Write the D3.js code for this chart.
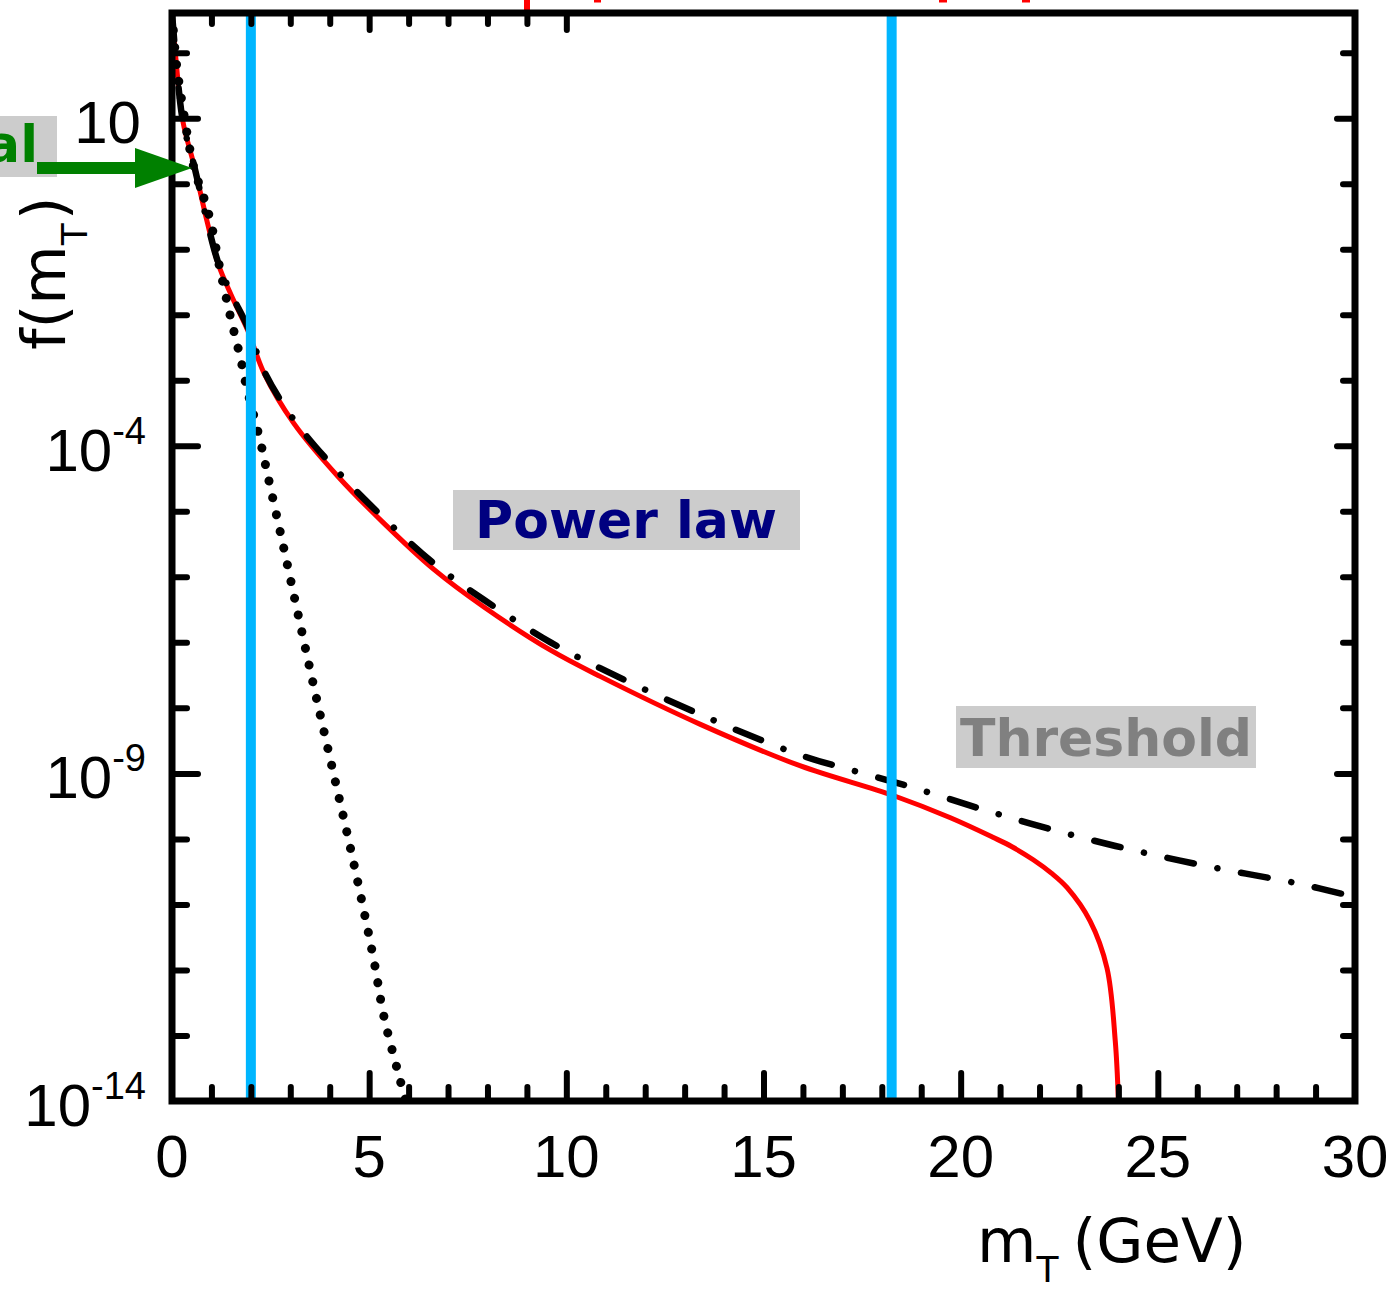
<!DOCTYPE html>
<html>
<head>
<meta charset="utf-8">
<script src="https://cdn.jsdelivr.net/npm/d3@7"></script>
<style>
  html, body { margin: 0; padding: 0; background: #ffffff; }
  svg { display: block; }
</style>
</head>
<body>
<svg id="chart" width="1394" height="1289"></svg>
<script>
// ---------------- data ----------------
// full spectrum (red solid): power law with kinematic threshold
const fullX = [0, 0.1, 0.28, 0.56, 0.9, 1.17, 1.5, 1.93, 2.33, 3.09, 4.21, 5.37, 6.64, 7.9, 9.6, 10.87, 13.4, 15.94, 18.29, 19.74, 20.83, 21.3, 21.84, 22.3, 22.7, 23.28, 23.71, 23.92, 24.0];
const fullY = [4.0e2, 7.9e1, 8.7e0, 1.9e0, 2.5e-1, 6.0e-2, 2.0e-2, 5.6e-3, 1.3e-3, 2.2e-4, 3.4e-5, 6.6e-6, 1.3e-6, 3.5e-7, 7.6e-8, 3.0e-8, 5.6e-9, 1.3e-9, 4.6e-10, 2.1e-10, 1.05e-10, 7.6e-11, 4.8e-11, 3.0e-11, 1.8e-11, 5.6e-12, 1.07e-12, 8.3e-14, 1.0e-14];

// pure power law (black dash-dot)
const powerX = [0, 0.1, 0.28, 0.56, 0.9, 1.17, 1.5, 1.93, 2.33, 3.09, 4.21, 5.37, 6.64, 7.9, 9.6, 10.87, 13.4, 15.94, 17.53, 18.9, 20.75, 22.7, 24.63, 26.58, 28.53, 30];
const powerY = [4.0e2, 7.9e1, 8.7e0, 1.9e0, 2.5e-1, 6.3e-2, 2.1e-2, 6.3e-3, 1.4e-3, 2.5e-4, 4.0e-5, 7.9e-6, 1.6e-6, 4.5e-7, 1.0e-7, 4.0e-8, 7.9e-9, 1.9e-9, 1.0e-9, 5.8e-10, 2.6e-10, 1.2e-10, 6.2e-11, 3.5e-11, 2.1e-11, 1.3e-11];

// thermal (black dotted)
const thermalX = [0, 0.1, 0.25, 0.55, 0.8, 0.99, 1.2, 1.49, 1.75, 1.87, 2.25, 2.43, 2.81, 3.19, 3.57, 4.08, 4.6, 5.12, 5.37, 5.75, 5.93];
const thermalY = [4.0e2, 7.9e1, 1.8e1, 1.8e0, 6.3e-1, 2.5e-1, 5.6e-2, 8.9e-3, 2.0e-3, 8.9e-4, 1.1e-4, 3.5e-5, 3.2e-6, 2.8e-7, 2.5e-8, 1.1e-9, 4.5e-11, 1.4e-12, 2.0e-13, 2.5e-14, 1.0e-14];

// region boundaries (GeV)
const boundaries = [2.0, 18.25];

// ticks
const xMajorTicks = [5, 10, 15, 20, 25];
const xMinorTicks = [1, 2, 3, 4, 6, 7, 8, 9, 11, 12, 13, 14, 16, 17, 18, 19, 21, 22, 23, 24, 26, 27, 28, 29];
const xTopMajor = [5, 10];
const xTopMinor = [1, 2, 3, 4, 6, 7, 8, 9];
const xTickLabels = [0, 5, 10, 15, 20, 25, 30];
const yMajorExps = [1, -4, -9];
const yMinorExps = [2, 0, -1, -2, -3, -5, -6, -7, -8, -10, -11, -12, -13];
const yLabelExps = [1, -4, -9, -14];

// ---------------- layout ----------------
const svg = d3.select("#chart");
const L = 172, R = 1355, T = 13, B = 1101;
const x = d3.scaleLinear().domain([0, 30]).range([L, R]);
const y = d3.scaleLog().domain([1e-14, 403]).range([B, T]);

const defs = svg.append("defs");
defs.append("clipPath").attr("id", "plotclip")
  .append("rect").attr("x", L).attr("y", T).attr("width", R - L).attr("height", B - T);

// top red fragments (cut-off annotation above the plot)
svg.append("line").attr("x1", 527).attr("x2", 527).attr("y1", 0).attr("y2", 13)
  .attr("stroke", "#ff0000").attr("stroke-width", 6);
[[594, 601], [939, 947], [1022, 1030]].forEach(s => {
  svg.append("line").attr("x1", s[0]).attr("x2", s[1]).attr("y1", 1).attr("y2", 1)
    .attr("stroke", "#ff0000").attr("stroke-width", 3);
});

// ---------------- curves ----------------
const g = svg.append("g").attr("clip-path", "url(#plotclip)");
const line = d3.line().x(d => x(d[0])).y(d => y(d[1])).curve(d3.curveCatmullRom.alpha(0.5));

const zip = (a, b) => a.map((v, i) => [v, b[i]]);

g.append("path").datum(zip(fullX, fullY))
  .attr("d", line).attr("fill", "none")
  .attr("stroke", "#ff0000").attr("stroke-width", 5);

g.append("path").datum(zip(powerX, powerY))
  .attr("d", line).attr("fill", "none")
  .attr("stroke", "#000").attr("stroke-width", 6.5)
  .attr("stroke-linecap", "round")
  .attr("stroke-dasharray", "27 24 0.1 24");

g.append("path").datum(zip(thermalX, thermalY))
  .attr("d", line).attr("fill", "none")
  .attr("stroke", "#000").attr("stroke-width", 9)
  .attr("stroke-linecap", "round")
  .attr("stroke-dasharray", "0.1 17");

// boundary lines
g.selectAll("line.bound").data(boundaries).enter().append("line")
  .attr("class", "bound")
  .attr("x1", d => x(d)).attr("x2", d => x(d))
  .attr("y1", T).attr("y2", B)
  .attr("stroke", "#00b6ff").attr("stroke-width", 10);

// ---------------- axes (ticks) ----------------
function styleTicks(sel) {
  sel.select(".domain").remove();
  sel.selectAll(".tick text").remove();
  sel.selectAll(".tick line").attr("stroke", "#000").attr("stroke-width", 6).attr("stroke-linecap", "round");
}
svg.append("g").attr("transform", `translate(0,${B})`)
  .call(d3.axisBottom(x).tickValues(xMinorTicks).tickSize(-14).tickFormat("")).call(styleTicks);
svg.append("g").attr("transform", `translate(0,${B})`)
  .call(d3.axisBottom(x).tickValues(xMajorTicks).tickSize(-28).tickFormat("")).call(styleTicks);
svg.append("g").attr("transform", `translate(0,${T})`)
  .call(d3.axisTop(x).tickValues(xTopMinor).tickSize(-11).tickFormat("")).call(styleTicks);
svg.append("g").attr("transform", `translate(0,${T})`)
  .call(d3.axisTop(x).tickValues(xTopMajor).tickSize(-17).tickFormat("")).call(styleTicks);

svg.append("g").attr("transform", `translate(${L},0)`)
  .call(d3.axisLeft(y).tickValues(yMinorExps.map(e => Math.pow(10, e))).tickSize(-15).tickFormat("")).call(styleTicks);
svg.append("g").attr("transform", `translate(${L},0)`)
  .call(d3.axisLeft(y).tickValues(yMajorExps.map(e => Math.pow(10, e))).tickSize(-26).tickFormat("")).call(styleTicks);
svg.append("g").attr("transform", `translate(${R},0)`)
  .call(d3.axisRight(y).tickValues(yMinorExps.map(e => Math.pow(10, e))).tickSize(-12).tickFormat("")).call(styleTicks);
svg.append("g").attr("transform", `translate(${R},0)`)
  .call(d3.axisRight(y).tickValues(yMajorExps.map(e => Math.pow(10, e))).tickSize(-18).tickFormat("")).call(styleTicks);

// frame
svg.append("rect").attr("x", L).attr("y", T).attr("width", R - L).attr("height", B - T)
  .attr("fill", "none").attr("stroke", "#000").attr("stroke-width", 7);

// ---------------- tick labels ----------------
const labelFont = "'Liberation Sans', Arial, Helvetica, sans-serif";
svg.selectAll("text.xl").data(xTickLabels).enter().append("text")
  .attr("class", "xl")
  .attr("x", d => x(d)).attr("y", 1177)
  .attr("text-anchor", "middle")
  .attr("font-family", labelFont).attr("font-size", 60).attr("fill", "#000")
  .text(d => d);

yLabelExps.forEach(e => {
  const yy = y(Math.pow(10, e)) + 25;
  const t = svg.append("text")
    .attr("x", e === 1 ? 141 : 146).attr("y", yy)
    .attr("text-anchor", "end")
    .attr("font-family", labelFont).attr("font-size", 60).attr("fill", "#000");
  t.append("tspan").text("10");
  if (e !== 1) {
    t.append("tspan").attr("font-size", 38).attr("dy", -27).text("-" + Math.abs(e));
  }
});

// ---------------- axis titles ----------------
const titleFont = "'DejaVu Sans', sans-serif";
const xt = svg.append("text").attr("x", 977).attr("y", 1262)
  .attr("font-family", titleFont).attr("font-size", 61).attr("fill", "#000");
xt.append("tspan").text("m");
xt.append("tspan").attr("font-size", 36).attr("dy", 20).text("T");
xt.append("tspan").attr("dy", -20).attr("dx", 14).text("(GeV)");

const yt = svg.append("text").attr("transform", "translate(65,350) rotate(-90)")
  .attr("font-family", titleFont).attr("font-size", 61).attr("fill", "#000");
yt.append("tspan").text("f(m");
yt.append("tspan").attr("font-size", 36).attr("dy", 22).text("T");
yt.append("tspan").attr("dy", -22).attr("dx", 3).text(")");

// ---------------- annotations ----------------
const annFont = "'DejaVu Sans', sans-serif";
svg.append("rect").attr("x", 453).attr("y", 490).attr("width", 347).attr("height", 60).attr("fill", "#cccccc");
svg.append("text").attr("x", 626).attr("y", 538).attr("text-anchor", "middle")
  .attr("font-family", annFont).attr("font-weight", "bold").attr("font-size", 52)
  .attr("fill", "#000080").text("Power law");

svg.append("rect").attr("x", 956).attr("y", 706).attr("width", 300).attr("height", 62).attr("fill", "#cccccc");
svg.append("text").attr("x", 1106).attr("y", 756).attr("text-anchor", "middle")
  .attr("font-family", annFont).attr("font-weight", "bold").attr("font-size", 52)
  .attr("fill", "#808080").text("Threshold");

svg.append("rect").attr("x", -10).attr("y", 116).attr("width", 67).attr("height", 61).attr("fill", "#cccccc");
svg.append("text").attr("x", 38).attr("y", 162).attr("text-anchor", "end")
  .attr("font-family", annFont).attr("font-weight", "bold").attr("font-size", 52)
  .attr("fill", "#008000").text("Thermal");

// green arrow
svg.append("line").attr("x1", 37).attr("x2", 138).attr("y1", 168).attr("y2", 168)
  .attr("stroke", "#008000").attr("stroke-width", 12);
svg.append("path").attr("d", "M135,148 L192,168 L135,188 Z").attr("fill", "#008000");
</script>
</body>
</html>
